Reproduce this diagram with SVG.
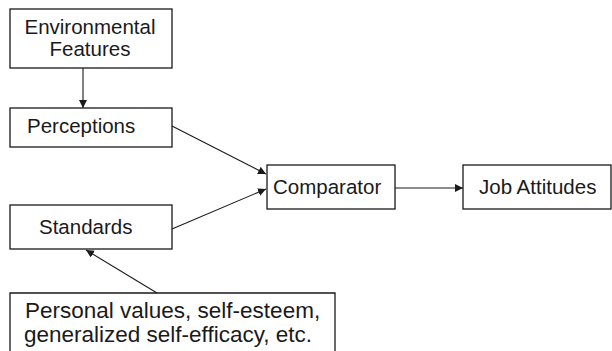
<svg xmlns="http://www.w3.org/2000/svg" width="612" height="351" viewBox="0 0 612 351">
<style>
.box{fill:#fff;stroke:#1a1a1a;stroke-width:1.3}
.t{font-family:"Liberation Sans",Arial,sans-serif;font-size:20.5px;fill:#1a1a1a}
.tl{font-family:"Liberation Sans",Arial,sans-serif;font-size:22.5px;fill:#1a1a1a}
.c{stroke:#1a1a1a;stroke-width:1.1;fill:none;marker-end:url(#ah)}
</style>
<defs>
<marker id="ah" viewBox="0 0 10 10" refX="10" refY="5" markerWidth="8" markerHeight="8" markerUnits="userSpaceOnUse" orient="auto">
<path d="M0,0 L10,5 L0,10 z" fill="#1a1a1a"/>
</marker>
</defs>
<rect width="612" height="351" fill="#fff"/>
<g id="connectors">
<line class="c" x1="83" y1="68" x2="83" y2="108"/>
<line class="c" x1="172" y1="126" x2="266" y2="174"/>
<line class="c" x1="172" y1="229" x2="266" y2="189"/>
<line class="c" x1="395" y1="188" x2="463" y2="188"/>
<line class="c" x1="157" y1="293" x2="86" y2="250"/>
</g>
<g id="environmental">
<rect class="box" x="10" y="9" width="162" height="59"/>
<text class="t" x="90" y="34" text-anchor="middle">Environmental</text>
<text class="t" x="90" y="56" text-anchor="middle">Features</text>
</g>
<g id="perceptions">
<rect class="box" x="10" y="108" width="162" height="39"/>
<text class="t" x="27" y="133">Perceptions</text>
</g>
<g id="standards">
<rect class="box" x="10" y="205" width="162" height="44"/>
<text class="t" x="39" y="234">Standards</text>
</g>
<g id="personal">
<path class="box" d="M10,352 V293 H335 V352"/>
<text class="tl" x="25" y="318">Personal values, self-esteem,</text>
<text class="tl" x="24" y="342">generalized self-efficacy, etc.</text>
</g>
<g id="comparator">
<rect class="box" x="267" y="165" width="128" height="44"/>
<text class="t" x="273" y="194">Comparator</text>
</g>
<g id="job">
<rect class="box" x="463" y="165" width="148" height="44"/>
<text class="t" x="479" y="194">Job Attitudes</text>
</g>
</svg>
